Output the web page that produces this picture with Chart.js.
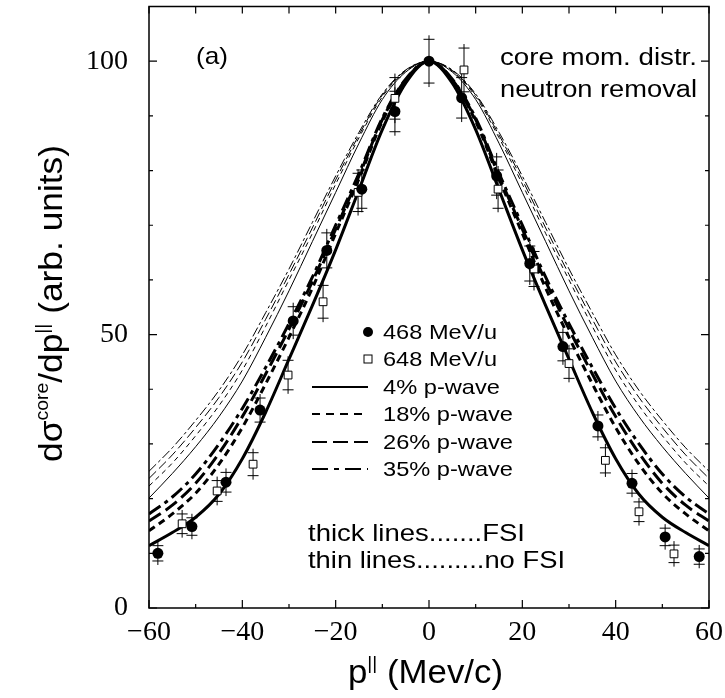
<!DOCTYPE html>
<html lang="en">
<head>
  <meta charset="UTF-8" />
  <title>core momentum distribution</title>
  <script src="https://cdn.jsdelivr.net/npm/chart.js"></script>
  <style>
    html, body { margin: 0; padding: 0; background: #fff; }
    #wrap { width: 725px; height: 698px; }
  </style>
</head>
<body>
  <div id="wrap"><canvas id="momChart" width="725" height="698"></canvas></div>

  <script>
    // p|| grid for the calculated curves (MeV/c)
    const xGrid = [-60,-55,-50,-45,-40,-35,-30,-25,-20,-15,-10,-5,0,5,10,15,20,25,30,35,40,45,50,55,60];

    // thick lines = with FSI
    const fsi4  = [11.4,13.8,16.6,20.8,27.3,35.8,45.5,55.3,65.5,76.5,87.5,96,100,96,87.5,76.5,65.5,55.3,45.5,35.8,27.3,20.8,16.6,13.8,11.4];
    const fsi18 = [14.1,17.2,21,26.3,33,41,49.5,58.5,68.5,78.5,89,96.5,100,96.5,89,78.5,68.5,58.5,49.5,41,33,26.3,21,17.2,14.1];
    const fsi26 = [15.9,18.8,22.8,28.3,35,42.8,51,59.7,69.3,79,89.3,96.6,100,96.6,89.3,79,69.3,59.7,51,42.8,35,28.3,22.8,18.8,15.9];
    const fsi35 = [17.2,20.3,24.5,30,36.5,44,52,60.5,70,79.5,89.6,96.7,100,96.7,89.6,79.5,70,60.5,52,44,36.5,30,24.5,20.3,17.2];

    // thin lines = no FSI
    const nofsi4  = [20.1,24.6,29.5,35,41.5,49.5,58,67,76,85,93,98,100,98,93,85,76,67,58,49.5,41.5,35,29.5,24.6,20.1];
    const nofsi18 = [22.3,26.5,31.5,37,43.5,51.5,60,68.5,77.5,86,93.5,98.2,100,98.2,93.5,86,77.5,68.5,60,51.5,43.5,37,31.5,26.5,22.3];
    const nofsi26 = [23.7,28,33,38.5,45,52.8,61,69.5,78.3,86.5,93.8,98.3,100,98.3,93.8,86.5,78.3,69.5,61,52.8,45,38.5,33,28,23.7];
    const nofsi35 = [25,29.3,34.3,39.8,46.3,54,62,70.5,79,87,94,98.4,100,98.4,94,87,79,70.5,62,54,46.3,39.8,34.3,29.3,25];

    // data 468 MeV/u (filled circles)
    const d468x   = [-58.1,-50.8,-43.5,-36.2,-29.1,-21.9,-14.4,-7.3,0,7.0,14.5,21.6,28.7,36.2,43.5,50.6,57.9];
    const d468y   = [10.0,14.9,23.0,36.2,52.5,65.4,76.6,90.8,100,93.3,79.0,63.0,47.8,33.3,22.8,13.0,9.4];
    const d468err = [1.4,1.6,1.8,2.2,2.6,3.2,3.5,3.7,4.0,3.7,3.5,3.2,2.6,2.0,1.8,1.6,1.4];

    // data 648 MeV/u (open squares)
    const d648x   = [-52.9,-45.4,-37.7,-30.2,-22.7,-15.2,-7.3,7.5,14.8,22.5,30.0,37.8,45.0,52.5];
    const d648y   = [15.4,21.4,26.3,42.6,56.0,76.0,93.2,98.4,76.6,62.0,44.7,27.0,17.6,9.9];
    const d648err = [1.8,1.9,2.1,2.7,3.0,3.5,3.8,4.0,3.5,3.2,2.7,2.3,1.8,1.6];

    const xTicksMajor = 20;
    const yTicksMajor = 50;

    const pts = (xs, ys) => xs.map((x, i) => ({ x: x, y: ys[i] }));

    function curve(label, vals, width, dash) {
      return {
        type: 'line',
        label: label,
        data: pts(xGrid, vals),
        borderColor: '#000',
        borderWidth: width,
        borderDash: dash,
        pointRadius: 0,
        fill: false,
        cubicInterpolationMode: 'monotone'
      };
    }

    // draw text squeezed/stretched to a target width, parts may be superscripts
    function richText(ctx, parts, size, family, targetW) {
      let w = 0;
      parts.forEach(p => {
        ctx.font = (p.sup ? size * 0.55 : size) + 'px ' + family;
        p.w = ctx.measureText(p.t).width;
        w += p.w;
      });
      const sx = targetW ? targetW / w : 1;
      ctx.save();
      ctx.scale(sx, 1);
      let x = 0;
      parts.forEach(p => {
        ctx.font = (p.sup ? size * 0.55 : size) + 'px ' + family;
        ctx.fillText(p.t, x, p.sup ? -size * 0.42 : 0);
        x += p.w;
      });
      ctx.restore();
    }

    function label(ctx, text, x, y, size, targetW) {
      ctx.save();
      ctx.translate(x, y);
      ctx.textAlign = 'left';
      ctx.textBaseline = 'alphabetic';
      richText(ctx, [{ t: text }], size, '"Liberation Sans", Arial, sans-serif', targetW);
      ctx.restore();
    }

    const errorBars = {
      id: 'errorBars',
      beforeDatasetsDraw(chart) {
        const ctx = chart.ctx, xs = chart.scales.x, ys = chart.scales.y;
        ctx.save();
        ctx.strokeStyle = '#000';
        ctx.lineWidth = 1;
        const draw = (xv, yv, ev) => {
          xv.forEach((x, i) => {
            const px = xs.getPixelForValue(x);
            const top = ys.getPixelForValue(yv[i] + ev[i]);
            const bot = ys.getPixelForValue(yv[i] - ev[i]);
            ctx.beginPath();
            ctx.moveTo(px, top - 4); ctx.lineTo(px, bot + 4);
            ctx.moveTo(px - 5.5, top); ctx.lineTo(px + 5.5, top);
            ctx.moveTo(px - 5.5, bot); ctx.lineTo(px + 5.5, bot);
            ctx.stroke();
          });
        };
        draw(d468x, d468y, d468err);
        draw(d648x, d648y, d648err);
        ctx.restore();
      }
    };

    const frameAndText = {
      id: 'frameAndText',
      afterDraw(chart) {
        const ctx = chart.ctx, a = chart.chartArea;
        const xs = chart.scales.x, ys = chart.scales.y;
        ctx.save();
        ctx.strokeStyle = '#000';
        ctx.lineWidth = 1.5;
        ctx.strokeRect(a.left, a.top, a.right - a.left, a.bottom - a.top);

        // inward ticks on all four sides
        ctx.lineWidth = 1.2;
        ctx.beginPath();
        xs.ticks.forEach(t => {
          const px = xs.getPixelForValue(t.value);
          const len = t.value % xTicksMajor === 0 ? 8 : 4;
          ctx.moveTo(px, a.bottom); ctx.lineTo(px, a.bottom - len);
          ctx.moveTo(px, a.top); ctx.lineTo(px, a.top + 7);
        });
        ys.ticks.forEach(t => {
          const py = ys.getPixelForValue(t.value);
          const len = t.value % yTicksMajor === 0 ? 8 : 4;
          ctx.moveTo(a.left, py); ctx.lineTo(a.left + len, py);
          ctx.moveTo(a.right, py); ctx.lineTo(a.right - len, py);
        });
        ctx.stroke();

        ctx.fillStyle = '#000';
        label(ctx, '(a)', 196, 64, 24, 32);
        label(ctx, 'core mom. distr.', 500, 65, 23, 197);
        label(ctx, 'neutron removal', 500, 97, 23, 197);

        // legend
        const lx0 = 312, lx1 = 368, tx = 383;
        ctx.beginPath();
        ctx.arc(368, 332, 5, 0, Math.PI * 2);
        ctx.fill();
        ctx.lineWidth = 1;
        ctx.fillStyle = '#fff';
        ctx.fillRect(364, 355, 8, 8);
        ctx.strokeRect(364, 355, 8, 8);
        ctx.fillStyle = '#000';
        label(ctx, '468 MeV/u', tx, 339, 21, 114);
        label(ctx, '648 MeV/u', tx, 366, 21, 114);

        const rows = [
          { t: '4% p-wave',  y: 394, dash: [] ,            w: 117 },
          { t: '18% p-wave', y: 421, dash: [8, 6],         w: 130 },
          { t: '26% p-wave', y: 449, dash: [15, 6],        w: 130 },
          { t: '35% p-wave', y: 476, dash: [16, 6, 5, 6],  w: 130 }
        ];
        rows.forEach(r => {
          ctx.save();
          ctx.lineWidth = 2;
          ctx.setLineDash(r.dash);
          ctx.beginPath();
          ctx.moveTo(lx0, r.y - 7); ctx.lineTo(lx1, r.y - 7);
          ctx.stroke();
          ctx.restore();
          label(ctx, r.t, tx, r.y, 21, r.w);
        });

        label(ctx, 'thick lines.......FSI', 308, 541, 24, 217);
        label(ctx, 'thin lines.........no FSI', 308, 568, 24, 257);

        // axis titles
        const fam = '"Liberation Sans", Arial, sans-serif';
        ctx.save();
        ctx.translate(348, 683);
        richText(ctx, [{ t: 'p' }, { t: '||', sup: true }, { t: ' (Mev/c)' }], 33, fam, 155);
        ctx.restore();

        ctx.save();
        ctx.translate(62, 462);
        ctx.rotate(-Math.PI / 2);
        richText(ctx, [{ t: 'd\u03c3' }, { t: 'core', sup: true }, { t: '/dp' }, { t: '||', sup: true }, { t: ' (arb. units)' }], 33, fam, 317);
        ctx.restore();

        ctx.restore();
      }
    };

    const noPad = s => { s.paddingTop = 0; s.paddingBottom = 0; s.paddingLeft = 0; s.paddingRight = 0; };

    const ctx = document.getElementById('momChart').getContext('2d');
    const momChart = new Chart(ctx, {
      type: 'scatter',
      data: {
        datasets: [
          {
            label: '468 MeV/u',
            data: pts(d468x, d468y),
            pointStyle: 'circle',
            pointRadius: 5.5,
            backgroundColor: '#000',
            borderColor: '#000',
            borderWidth: 0
          },
          {
            label: '648 MeV/u',
            data: pts(d648x, d648y),
            pointStyle: 'rect',
            pointRadius: 5.5,
            backgroundColor: '#fff',
            borderColor: '#000',
            borderWidth: 1
          },
          curve('4% p-wave FSI', fsi4, 3, []),
          curve('18% p-wave FSI', fsi18, 3, [7, 5]),
          curve('26% p-wave FSI', fsi26, 3, [14, 6]),
          curve('35% p-wave FSI', fsi35, 3, [14, 5, 4, 5]),
          curve('4% p-wave no FSI', nofsi4, 1, []),
          curve('18% p-wave no FSI', nofsi18, 1, [5, 4]),
          curve('26% p-wave no FSI', nofsi26, 1, [10, 4]),
          curve('35% p-wave no FSI', nofsi35, 1, [10, 3, 3, 3])
        ]
      },
      options: {
        responsive: false,
        animation: false,
        layout: { padding: { top: 1, right: 16, left: 0, bottom: 0 } },
        plugins: {
          legend: { display: false },
          tooltip: { enabled: false }
        },
        scales: {
          x: {
            type: 'linear',
            min: -60,
            max: 60,
            grid: { display: false, drawTicks: false },
            border: { display: false },
            afterFit: s => { s.height = 90; noPad(s); },
            ticks: {
              stepSize: 10,
              autoSkip: false,
              maxRotation: 0,
              padding: 8,
              color: '#000',
              font: { family: '"Liberation Serif", "Times New Roman", serif', size: 28 },
              callback: v => v % xTicksMajor === 0 ? String(v).replace('-', '\u2212') : ''
            }
          },
          y: {
            type: 'linear',
            min: 0,
            max: 110,
            grid: { display: false, drawTicks: false },
            border: { display: false },
            afterFit: s => { s.width = 149; noPad(s); },
            ticks: {
              stepSize: 10,
              autoSkip: false,
              padding: 21,
              color: '#000',
              font: { family: '"Liberation Serif", "Times New Roman", serif', size: 28 },
              callback: v => v % yTicksMajor === 0 ? v : ''
            }
          }
        }
      },
      plugins: [errorBars, frameAndText]
    });
  </script>
</body>
</html>
